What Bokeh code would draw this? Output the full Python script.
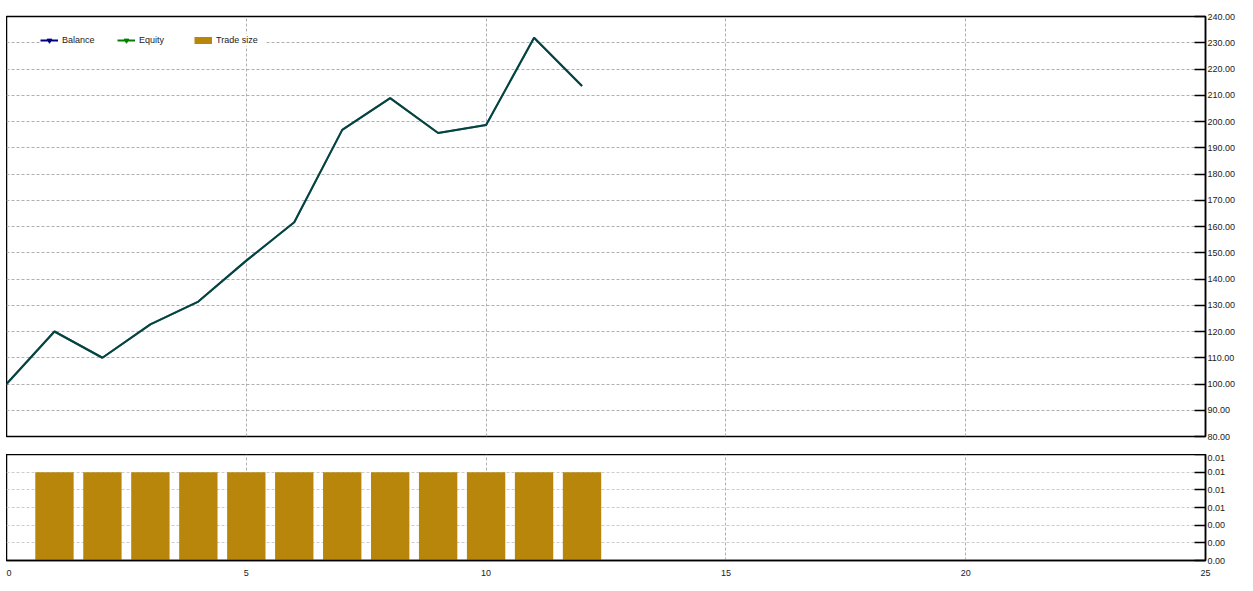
from bokeh.plotting import figure
from bokeh.models import (Range1d, FixedTicker, PrintfTickFormatter, Legend,
                          LegendItem, ColumnDataSource)
from bokeh.layouts import column
from bokeh.embed import file_html
from bokeh.resources import INLINE

# ---------------- data ----------------
steps = [0, 1, 2, 3, 4, 5, 6, 7, 8, 9, 10, 11, 12]
balance = [100.0, 120.0, 110.0, 122.7, 131.4, 147.0, 161.6, 196.8, 208.9, 195.6, 198.7, 231.9, 213.5]
equity = [100.0, 120.0, 110.0, 122.7, 131.4, 147.0, 161.6, 196.8, 208.9, 195.6, 198.7, 231.9, 213.5]
trade_x = [1, 2, 3, 4, 5, 6, 7, 8, 9, 10, 11, 12]
trade_size = [0.01, 0.01, 0.01, 0.01, 0.01, 0.01, 0.01, 0.01, 0.01, 0.01, 0.01, 0.01]
x_ticks = [0, 5, 10, 15, 20, 25]
y_ticks_top = [80, 90, 100, 110, 120, 130, 140, 150, 160, 170, 180, 190, 200, 210, 220, 230, 240]
y_ticks_bottom = [0.0, 0.002, 0.004, 0.006, 0.008, 0.010, 0.012]
legend_labels = ["Balance", "Equity", "Trade size"]

FONT = "Liberation Sans"
BAL_COLOR = "#000080"
EQ_COLOR = "#008000"
BAR_COLOR = "#B8860B"
GRID_COLOR = "#b0b0b0"

xr = Range1d(0, 25)


def base_style(p):
    p.outline_line_color = "black"
    p.outline_line_width = 1.5
    p.background_fill_color = "white"
    p.border_fill_color = "white"
    p.xgrid.ticker = FixedTicker(ticks=x_ticks)
    for g in p.xgrid + p.ygrid:
        g.grid_line_color = GRID_COLOR
        g.grid_line_dash = "3 2"
        g.grid_line_width = 1


def style_y(ax, ticks):
    ax.ticker = FixedTicker(ticks=ticks)
    ax.formatter = PrintfTickFormatter(format="%.2f")
    ax.major_tick_in = 11
    ax.major_tick_out = 0
    ax.minor_tick_in = 0
    ax.minor_tick_out = 0
    ax.axis_line_color = "black"
    ax.axis_line_width = 1.5
    ax.major_tick_line_color = "black"
    ax.major_tick_line_width = 1.3
    ax.major_label_text_font = FONT
    ax.major_label_text_font_size = "9px"
    ax.major_label_text_color = "#222222"
    ax.major_label_standoff = 2


# ---------------- top panel ----------------
top = figure(width=1235, height=446, x_range=xr, y_range=Range1d(80, 240),
             x_axis_location=None, y_axis_location="right", title=None,
             output_backend="svg", toolbar_location=None,
             min_border_left=0, min_border_right=36, min_border_top=8,
             min_border_bottom=18, margin=(8, 0, 0, 6))
base_style(top)
style_y(top.yaxis[0], y_ticks_top)

src = ColumnDataSource(dict(step=steps, balance=balance, equity=equity))
top.line("step", "balance", source=src, line_color=BAL_COLOR, line_width=2)
top.line("step", "equity", source=src, line_color=EQ_COLOR, line_width=2, line_alpha=0.55)

# legend-only renderers (points placed outside the visible range)
off = ColumnDataSource(dict(x=[-100, -99], y=[-100, -100]))
lb = top.line("x", "y", source=off, line_color=BAL_COLOR, line_width=2)
mb = top.scatter("x", "y", source=off, marker="inverted_triangle", color=BAL_COLOR, size=6)
le = top.line("x", "y", source=off, line_color=EQ_COLOR, line_width=2)
me = top.scatter("x", "y", source=off, marker="inverted_triangle", color=EQ_COLOR, size=6)
lt = top.line("x", "y", source=off, line_color=BAR_COLOR, line_width=7, line_cap="butt")

legend = Legend(items=[LegendItem(label=legend_labels[0], renderers=[lb, mb]),
                       LegendItem(label=legend_labels[1], renderers=[le, me]),
                       LegendItem(label=legend_labels[2], renderers=[lt])],
                orientation="horizontal", location=(34, 390), margin=0,
                padding=6, spacing=5, glyph_width=18, glyph_height=12,
                label_height=12, label_width=50, label_standoff=4,
                border_line_color=None, background_fill_color="white",
                background_fill_alpha=1.0,
                label_text_font=FONT, label_text_font_size="9px",
                label_text_color="#222222")
top.add_layout(legend, "center")

# ---------------- bottom panel ----------------
bot = figure(width=1235, height=128, x_range=xr, y_range=Range1d(0, 0.012),
             y_axis_location="right", title=None,
             output_backend="svg", toolbar_location=None,
             min_border_left=0, min_border_right=36, min_border_top=0,
             min_border_bottom=22, margin=(0, 0, 0, 6))
base_style(bot)
style_y(bot.yaxis[0], y_ticks_bottom)
for g in bot.ygrid:
    g.grid_line_color = "#cccccc"

bsrc = ColumnDataSource(dict(x=trade_x, size=trade_size))
bot.vbar(x="x", top="size", bottom=0, width=0.8, source=bsrc,
         fill_color=BAR_COLOR, line_color=None)

xa = bot.xaxis[0]
xa.ticker = FixedTicker(ticks=x_ticks)
xa.major_tick_in = 0
xa.major_tick_out = 0
xa.minor_tick_in = 0
xa.minor_tick_out = 0
xa.axis_line_color = "black"
xa.axis_line_width = 1.5
xa.major_label_text_font = FONT
xa.major_label_text_font_size = "9px"
xa.major_label_text_color = "#222222"
xa.major_label_standoff = 9

layout = column(top, bot, spacing=0)
open("out.html", "w").write(file_html(layout, INLINE))
